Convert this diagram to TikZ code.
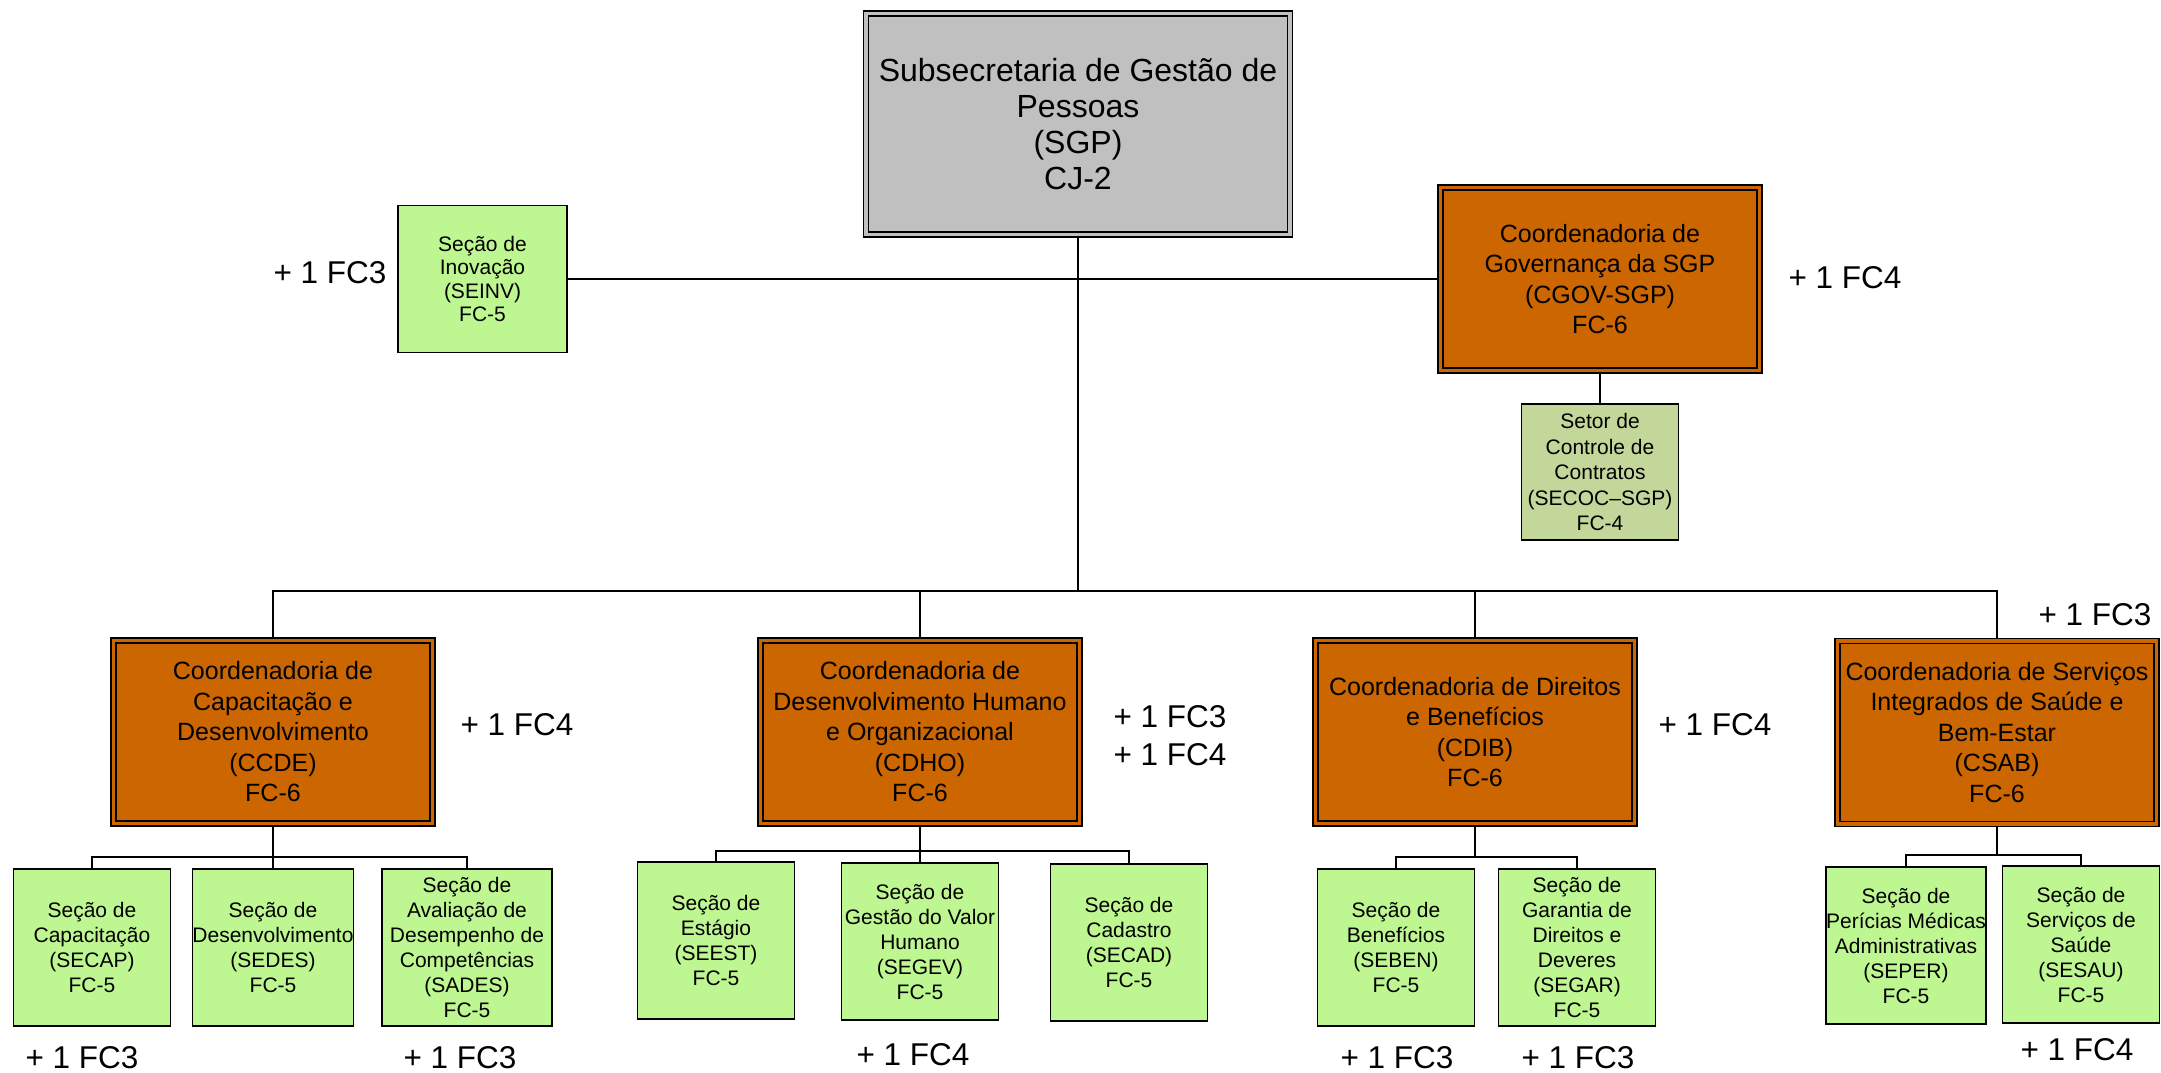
\documentclass[tikz,border=0pt]{standalone}
\usepackage{fontspec}
\setmainfont{Liberation Sans}
\definecolor{laranja}{RGB}{204,102,0}
\definecolor{verde}{RGB}{190,246,145}
\definecolor{oliva}{RGB}{196,215,155}
\definecolor{cinza}{RGB}{192,192,192}
\begin{document}
\begin{tikzpicture}[x=1pt, y=-1pt,
	topobox/.style={draw, line width=1.5pt, double=cinza, double distance=3.5pt, fill=cinza, outer sep=3.25pt, inner sep=0pt, minimum width=424pt, minimum height=221pt, align=center, font=\fontsize{32}{36}\selectfont},
	coordbox/.style={draw, line width=1.5pt, double=laranja, double distance=3.5pt, fill=laranja, outer sep=3.25pt, inner sep=0pt, minimum width=319pt, minimum height=183pt, align=center, font=\fontsize{25}{30.5}\selectfont},
	secaobox/.style={draw, line width=1.5pt, fill=verde, inner sep=0pt, minimum width=157pt, minimum height=157pt, align=center, font=\fontsize{21}{25}\selectfont, text depth=-16pt},
	fcnote/.style={inner sep=0pt, align=center, font=\fontsize{31.5}{38}\selectfont},
	linha/.style={line width=2pt}]
	\useasboundingbox (0,0) rectangle (2161,1073);
	% topo
	\node (SGP)[topobox] at (1078,124) {Subsecretaria de Gestão de\\Pessoas\\(SGP)\\CJ-2};
	\node (SEINV)[secaobox, minimum width=169pt, minimum height=147pt, font=\fontsize{21}{23.5}\selectfont] at (482.5,279) {Seção de\\Inovação\\(SEINV)\\FC-5};
	\node (CGOV)[coordbox] at (1600,279) {Coordenadoria de\\Governança da SGP\\(CGOV-SGP)\\FC-6};
	\node (SECOC)[secaobox, fill=oliva, minimum height=136pt, font=\fontsize{21}{25.5}\selectfont, text depth=0pt] at (1600,472) {Setor de\\Controle de\\Contratos\\(SECOC–SGP)\\FC-4};
	\coordinate (BUS) at (1078,591);
	% coordenadorias
	\node (CCDE)[coordbox] at (273,732) {Coordenadoria de\\Capacitação e\\Desenvolvimento\\(CCDE)\\FC-6};
	\node (CDHO)[coordbox] at (920,732) {Coordenadoria de\\Desenvolvimento Humano\\e Organizacional\\(CDHO)\\FC-6};
	\node (CDIB)[coordbox] at (1475,732) {Coordenadoria de Direitos\\e Benefícios\\(CDIB)\\FC-6};
	\node (CSAB)[coordbox] at (1997,732.5) {Coordenadoria de Serviços\\Integrados de Saúde e\\Bem-Estar\\(CSAB)\\FC-6};
	% secoes
	\node (SECAP)[secaobox] at (92,947.5) {Seção de\\Capacitação\\(SECAP)\\FC-5};
	\node (SEDES)[secaobox] at (273,947.5) {Seção de\\Desenvolvimento\\(SEDES)\\FC-5};
	\node (SADES)[secaobox, minimum width=170pt] at (467,947.5) {Seção de\\Avaliação de\\Desempenho de\\Competências\\(SADES)\\FC-5};
	\node (SEEST)[secaobox] at (716,940.5) {Seção de\\Estágio\\(SEEST)\\FC-5};
	\node (SEGEV)[secaobox] at (920,941.5) {Seção de\\Gestão do Valor\\Humano\\(SEGEV)\\FC-5};
	\node (SECAD)[secaobox] at (1129,942.5) {Seção de\\Cadastro\\(SECAD)\\FC-5};
	\node (SEBEN)[secaobox] at (1396,947.5) {Seção de\\Benefícios\\(SEBEN)\\FC-5};
	\node (SEGAR)[secaobox] at (1577,947.5) {Seção de\\Garantia de\\Direitos e\\Deveres\\(SEGAR)\\FC-5};
	\node (SEPER)[secaobox] at (1906,945.5) {Seção de\\Perícias Médicas\\Administrativas\\(SEPER)\\FC-5};
	\node (SESAU)[secaobox] at (2081,944.5) {Seção de\\Serviços de\\Saúde\\(SESAU)\\FC-5};
	\coordinate (BCCDE) at (273,857);
	\coordinate (BCDHO) at (920,851);
	\coordinate (BCDIB) at (1475,857);
	\coordinate (BCSAB) at (1997,855);
	% funcoes comissionadas
	\node (N1)[fcnote] at (330,273) {+ 1 FC3};
	\node (N2)[fcnote] at (1845,278) {+ 1 FC4};
	\node (N3)[fcnote] at (517,725) {+ 1 FC4};
	\node (N4)[fcnote] at (1170,736) {+ 1 FC3\\+ 1 FC4};
	\node (N5)[fcnote] at (1715,725) {+ 1 FC4};
	\node (N6)[fcnote] at (2095,615) {+ 1 FC3};
	\node (N7)[fcnote] at (82,1058) {+ 1 FC3};
	\node (N8)[fcnote] at (460,1058) {+ 1 FC3};
	\node (N9)[fcnote] at (913,1055) {+ 1 FC4};
	\node (N10)[fcnote] at (1397,1058) {+ 1 FC3};
	\node (N11)[fcnote] at (1578,1058) {+ 1 FC3};
	\node (N12)[fcnote] at (2077,1050) {+ 1 FC4};
	% ligacoes
	\draw[linha](SGP)--(BUS);
	\draw[linha](SEINV)--(CGOV);
	\draw[linha](CGOV)--(SECOC);
	\foreach \x in {CCDE,CDHO,CDIB,CSAB}
	{
		\draw[linha](BUS)-|(\x);
		\draw[linha](\x)--(B\x);
	}
	\foreach \x in {SECAP,SEDES,SADES}
	{
		\draw[linha](BCCDE)-|(\x);
	}
	\foreach \x in {SEEST,SEGEV,SECAD}
	{
		\draw[linha](BCDHO)-|(\x);
	}
	\foreach \x in {SEBEN,SEGAR}
	{
		\draw[linha](BCDIB)-|(\x);
	}
	\foreach \x in {SEPER,SESAU}
	{
		\draw[linha](BCSAB)-|(\x);
	}
\end{tikzpicture}
\end{document}
